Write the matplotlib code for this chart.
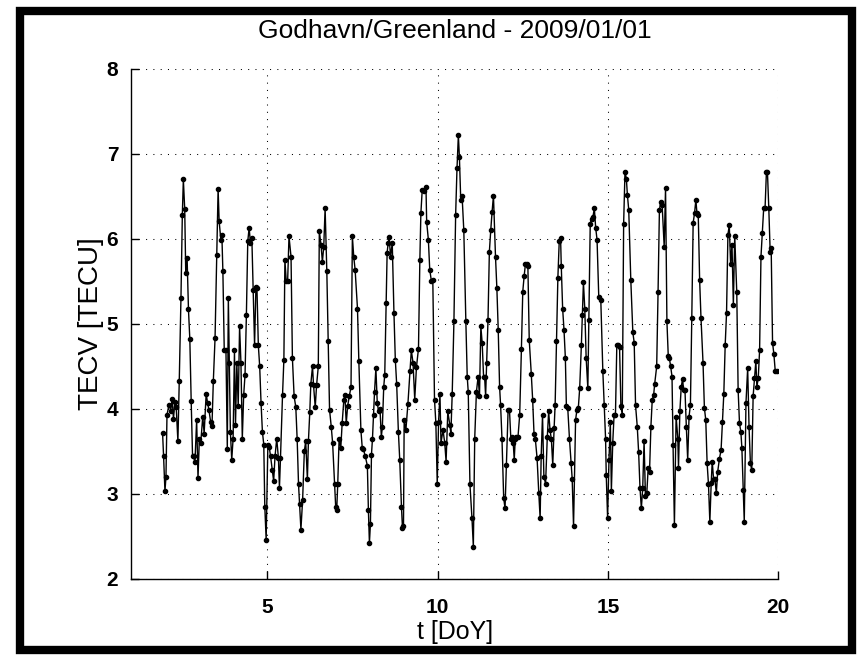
import matplotlib.pyplot as plt
from matplotlib.patches import Rectangle

plt.rcParams['font.family'] = ['Liberation Sans', 'DejaVu Sans']

# time in day of year
doy = [
    1.93, 1.96, 2.00, 2.03, 2.06, 2.12, 2.17, 2.21, 2.25, 2.29, 2.33, 2.38, 2.42, 2.47, 2.51, 2.54,
    2.58, 2.61, 2.65, 2.69, 2.73, 2.77, 2.81, 2.84, 2.88, 2.93, 2.97, 3.01, 3.05, 3.11, 3.15, 3.21,
    3.25, 3.29, 3.34, 3.38, 3.42, 3.47, 3.52, 3.56, 3.59, 3.64, 3.67, 3.70, 3.74, 3.79, 3.83, 3.86,
    3.89, 3.92, 3.96, 4.00, 4.04, 4.07, 4.11, 4.15, 4.19, 4.23, 4.27, 4.31, 4.35, 4.39, 4.43, 4.47,
    4.51, 4.55, 4.59, 4.63, 4.67, 4.70, 4.74, 4.78, 4.82, 4.86, 4.90, 4.93, 4.97,
    5.02, 5.06, 5.10, 5.15, 5.19, 5.23, 5.28, 5.33, 5.36, 5.39, 5.45, 5.49, 5.52, 5.56, 5.60, 5.64,
    5.70, 5.74, 5.79, 5.84, 5.88, 5.92, 5.95, 5.99, 6.04, 6.09, 6.13, 6.18, 6.21, 6.25, 6.28, 6.33,
    6.36, 6.41, 6.45, 6.50, 6.53, 6.58, 6.62, 6.66, 6.70, 6.75, 6.79, 6.83, 6.88, 6.92, 6.98, 7.01,
    7.04, 7.07, 7.11, 7.16, 7.20, 7.25, 7.28, 7.32, 7.36, 7.41, 7.46, 7.50, 7.54, 7.58, 7.65, 7.69,
    7.75, 7.79,
    7.82, 7.88, 7.94, 7.97, 8.00, 8.03, 8.06, 8.09, 8.12, 8.15, 8.19, 8.23, 8.27, 8.31, 8.35, 8.38,
    8.42, 8.45, 8.49, 8.52, 8.55, 8.58, 8.62, 8.67, 8.72, 8.76, 8.80, 8.85, 8.89, 8.94, 8.97, 9.00,
    9.02, 9.07, 9.13, 9.19, 9.23, 9.28, 9.33, 9.38, 9.44, 9.48, 9.51, 9.55, 9.61, 9.66, 9.68, 9.73,
    9.77, 9.82, 9.86, 9.91, 9.95, 9.99, 10.03, 10.07, 10.10, 10.16, 10.21, 10.25, 10.30, 10.36, 10.39, 10.43,
    10.48, 10.53, 10.57, 10.61, 10.64, 10.68, 10.72, 10.77, 10.83, 10.87, 10.90, 10.95, 11.01, 11.05,
    11.09, 11.14, 11.19, 11.23, 11.27, 11.31, 11.35, 11.38, 11.41, 11.44, 11.48, 11.52, 11.56, 11.60, 11.64, 11.70,
    11.74, 11.78, 11.82, 11.85, 11.89, 11.94, 11.98, 12.02, 12.07, 12.11, 12.15, 12.19, 12.22, 12.25, 12.28, 12.31,
    12.36, 12.41, 12.46, 12.50, 12.54, 12.58, 12.62, 12.65, 12.69, 12.75, 12.79, 12.83, 12.87, 12.92, 12.97, 13.01,
    13.04, 13.08, 13.12, 13.17, 13.22, 13.26, 13.30, 13.34, 13.38, 13.42, 13.45, 13.49, 13.53, 13.57, 13.61, 13.63,
    13.67, 13.71, 13.75, 13.78, 13.82, 13.87, 13.92, 13.95, 13.99,
    14.05, 14.09, 14.13, 14.17, 14.22, 14.25, 14.28, 14.32, 14.36, 14.41, 14.44, 14.48, 14.52, 14.56, 14.60, 14.64,
    14.68, 14.73, 14.79, 14.85, 14.89, 14.93, 14.95, 14.99, 15.03, 15.07, 15.10, 15.14, 15.18, 15.22, 15.26, 15.30,
    15.34, 15.38, 15.42, 15.46, 15.50, 15.54, 15.57, 15.61, 15.67, 15.73, 15.77, 15.81, 15.86, 15.90, 15.94, 15.98,
    16.02, 16.06, 16.10, 16.14, 16.18, 16.22, 16.26, 16.30, 16.34, 16.37, 16.43, 16.47, 16.51, 16.55, 16.59, 16.65,
    16.69, 16.73, 16.77, 16.80, 16.84, 16.88, 16.91, 16.95,
    17.00, 17.05, 17.07, 17.11, 17.15, 17.19, 17.22, 17.26, 17.30, 17.34, 17.38, 17.42, 17.46, 17.50, 17.54, 17.58,
    17.61, 17.65, 17.69, 17.73, 17.79, 17.83, 17.87, 17.91, 17.95, 17.99, 18.03, 18.06, 18.10, 18.14, 18.18, 18.22,
    18.27, 18.32, 18.36, 18.40, 18.44, 18.48, 18.52, 18.56, 18.60, 18.64, 18.68, 18.72, 18.78, 18.82, 18.86, 18.90,
    18.93, 18.97, 19.00, 19.05, 19.10, 19.14, 19.18, 19.22, 19.26, 19.30, 19.34, 19.37, 19.41, 19.45, 19.49, 19.53,
    19.57, 19.61, 19.65, 19.68, 19.72, 19.76, 19.79, 19.83, 19.87, 19.91, 19.96,
]

# vertical TEC in TECU
tecv = [
    3.72, 3.44, 3.03, 3.20, 3.93, 4.05, 3.98, 4.12, 3.88, 4.08, 4.02, 3.62, 4.33, 5.31, 6.28, 6.70,
    6.35, 5.60, 5.78, 5.17, 4.82, 4.09, 3.44, 3.44, 3.37, 3.87, 3.19, 3.65, 3.60, 3.91, 3.71, 4.18,
    4.07, 3.99, 3.85, 3.80, 4.33, 4.83, 5.81, 6.59, 6.21, 5.99, 6.05, 5.62, 4.69, 4.69, 3.53, 5.31,
    4.54, 3.73, 3.40, 3.65, 4.69, 3.81, 4.54, 4.03, 4.97, 4.54, 3.65, 4.16, 4.40, 5.11, 5.97, 6.13,
    5.95, 6.01, 5.40, 4.75, 5.44, 5.42, 4.75, 4.50, 4.07, 3.73, 3.58, 2.85, 2.46,
    3.58, 3.55, 3.44, 3.28, 3.15, 3.44, 3.65, 3.42, 3.07, 3.42, 4.16, 4.58, 5.75, 5.50, 5.50, 6.03,
    5.79, 4.60, 4.15, 4.02, 3.64, 3.11, 2.88, 2.58, 2.93, 3.50, 3.62, 3.17, 3.62, 3.96, 4.29, 4.50,
    4.28, 4.02, 4.28, 4.50, 6.09, 5.93, 5.73, 5.91, 6.36, 5.62, 4.80, 3.99, 3.79, 3.60, 3.11, 2.85,
    2.81, 3.11, 3.64, 3.54, 3.83, 4.11, 4.16, 3.83, 4.03, 4.15, 4.26, 6.03, 5.79, 5.64, 5.18, 4.56,
    3.75, 3.54,
    3.53, 3.44, 3.33, 2.81, 2.42, 2.65, 3.46, 3.65, 3.93, 4.20, 4.48, 4.07, 3.97, 4.00, 3.67, 3.79,
    4.26, 4.40, 5.25, 5.84, 5.95, 6.02, 5.79, 5.95, 5.13, 4.58, 4.29, 3.73, 3.40, 2.85, 2.60, 2.62,
    3.87, 3.75, 4.06, 4.44, 4.69, 4.54, 4.11, 4.49, 4.71, 5.75, 6.30, 6.58, 6.56, 6.61, 6.20, 5.99,
    5.64, 5.50, 5.52, 4.11, 3.83, 3.12, 3.85, 4.18, 3.60, 3.75, 3.60, 3.38, 3.97, 3.81, 3.71, 4.18,
    5.03, 6.28, 6.83, 7.22, 6.97, 6.46, 6.50, 6.10, 5.03, 4.38, 4.20, 3.11, 2.71, 2.38,
    3.65, 4.20, 4.38, 4.15, 4.97, 4.77, 4.38, 4.38, 4.15, 4.54, 5.05, 5.85, 6.10, 6.32, 6.51, 5.79,
    5.42, 4.93, 4.26, 4.04, 3.65, 2.95, 2.83, 3.34, 3.99, 3.99, 3.65, 3.67, 3.60, 3.40, 3.65, 3.67,
    3.67, 3.93, 4.70, 5.38, 5.56, 5.71, 5.71, 5.68, 4.81, 4.41, 4.11, 3.71, 3.64, 3.42, 3.01, 2.71,
    3.44, 3.93, 3.20, 3.12, 3.67, 3.97, 3.75, 3.64, 3.34, 3.77, 4.05, 4.80, 5.54, 5.97, 6.01, 5.68,
    5.18, 4.93, 4.60, 4.03, 4.01, 3.65, 3.36, 3.18, 2.62,
    3.87, 3.99, 4.01, 4.24, 4.75, 5.11, 5.49, 5.18, 4.60, 4.24, 5.05, 6.18, 6.24, 6.26, 6.36, 6.13,
    5.99, 5.32, 5.28, 4.44, 4.04, 3.65, 3.22, 2.71, 3.40, 3.85, 3.03, 3.60, 3.93, 3.93, 4.75, 4.75,
    4.73, 4.03, 3.93, 6.18, 6.79, 6.71, 6.52, 6.34, 5.52, 4.90, 4.78, 4.04, 3.79, 3.49, 3.07, 2.83,
    3.07, 3.62, 2.97, 3.01, 3.30, 3.26, 3.79, 4.11, 4.16, 4.29, 4.50, 5.37, 6.34, 6.44, 6.40, 5.91,
    6.60, 5.03, 4.62, 4.60, 4.50, 4.38, 3.58, 2.63,
    3.91, 3.65, 3.30, 3.97, 4.26, 4.35, 4.22, 4.22, 3.79, 3.40, 3.91, 4.05, 5.07, 6.19, 6.30, 6.46,
    6.31, 6.28, 5.52, 5.07, 4.54, 4.01, 3.87, 3.36, 3.11, 2.67, 3.13, 3.38, 3.17, 3.17, 3.01, 3.26,
    3.41, 3.52, 3.85, 4.18, 4.75, 5.13, 6.05, 6.16, 5.70, 5.93, 5.22, 6.04, 5.37, 4.22, 3.83, 3.73,
    3.54, 3.05, 2.67, 4.07, 4.48, 3.79, 3.36, 3.28, 4.15, 4.36, 4.56, 4.26, 4.36, 4.69, 5.79, 6.07,
    6.36, 6.36, 6.79, 6.79, 6.36, 5.85, 5.89, 4.78, 4.64, 4.44, 4.44,
]

x_ticks = [5, 10, 15, 20]
y_ticks = [2, 3, 4, 5, 6, 7, 8]

fig = plt.figure(figsize=(8.61, 6.57), dpi=100)
ax = fig.add_axes([0.152, 0.119, 0.752, 0.776])

ax.plot(doy, tecv, color='black', linewidth=1.0, marker='.', markersize=6)

ax.set_xlim(1, 20)
ax.set_ylim(2, 8)
ax.set_xticks(x_ticks)
ax.set_yticks(y_ticks)
ax.grid(True, color='black', linestyle=(0, (1, 6)), linewidth=0.75)

for side in ['top', 'right']:
    ax.spines[side].set_visible(False)
for side in ['left', 'bottom']:
    ax.spines[side].set_linewidth(1.0)
ax.tick_params(direction='in', length=6, width=1.0, labelsize=15)
ax.tick_params(axis='x', pad=14)
ax.tick_params(axis='y', pad=9)
for lab in ax.get_xticklabels() + ax.get_yticklabels():
    lab.set_fontweight('bold')

ax.set_title('Godhavn/Greenland - 2009/01/01', fontsize=19, pad=22)
ax.set_xlabel('t [DoY]', fontsize=18, labelpad=2)
ax.set_ylabel('TECV [TECU]', fontsize=20, labelpad=2)

# thick black frame around the whole figure
fig.patches.append(Rectangle((20 / 861, 7 / 657), 832 / 861, 639 / 657,
                             transform=fig.transFigure, fill=False,
                             edgecolor='black', linewidth=6))

fig.savefig('out.png', dpi=100)
